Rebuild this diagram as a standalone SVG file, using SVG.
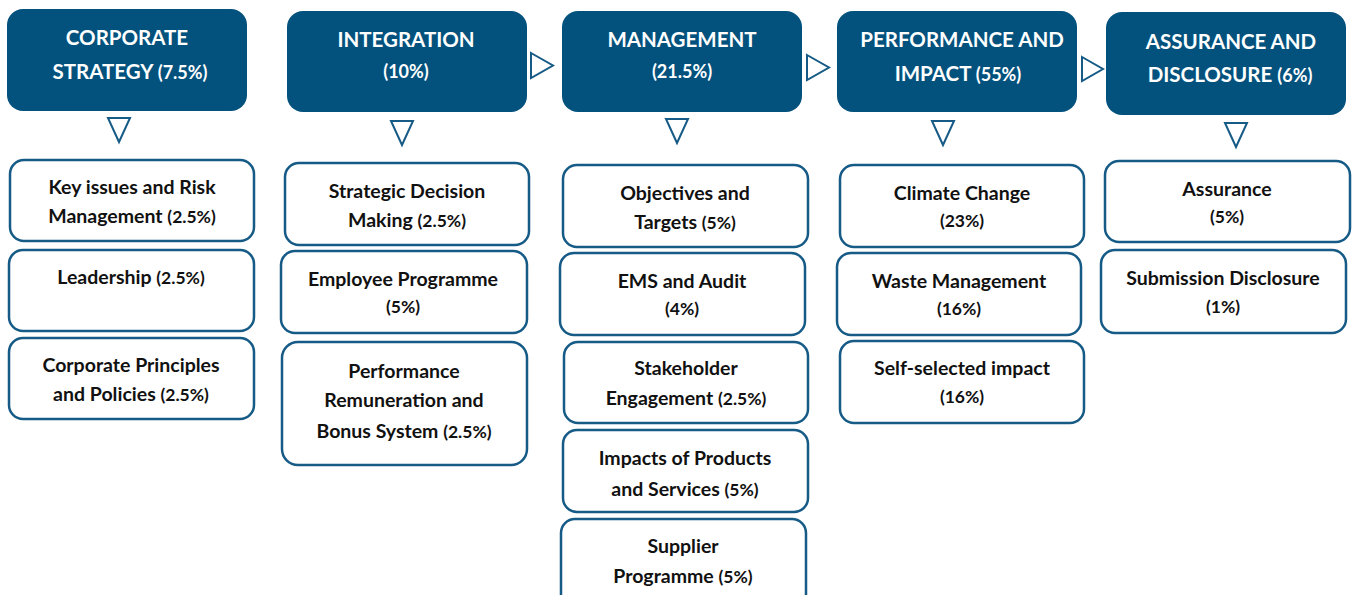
<svg xmlns="http://www.w3.org/2000/svg" width="1359" height="595" viewBox="0 0 1359 595">
<style>
.hd{fill:#03527D;}
.bx{fill:#fff;stroke:#165A86;stroke-width:2.5;}
.tri{fill:#fff;stroke:#165A86;stroke-width:2;stroke-linejoin:miter;}
text{font-family:Lato,"Open Sans","Liberation Sans",sans-serif;font-weight:700;text-anchor:middle;}
.ht{fill:#fff;font-size:20.5px;}
.ht .p{font-size:18px;}
.bt{fill:#111;font-size:19.5px;}
.bt .p,.bp{font-size:17.5px;}
</style>
<rect width="1359" height="595" fill="#fff"/>

<g id="connectors">
<polygon class="tri" points="531,53 553,65.5 531,78"/>
<polygon class="tri" points="807,55 829,67.5 807,80"/>
<polygon class="tri" points="1082,57 1103,69 1082,81"/>
<polygon class="tri" points="108,118 130,118 119,142"/>
<polygon class="tri" points="391,121 413,121 402,145"/>
<polygon class="tri" points="666,119 688,119 677,143"/>
<polygon class="tri" points="932,121 954,121 943,145"/>
<polygon class="tri" points="1225,123 1247,123 1236,147"/>
</g>

<g id="h1"><rect class="hd" x="7" y="9" width="240" height="102" rx="16"/>
<text class="ht" x="127" y="45">CORPORATE</text>
<text class="ht" x="130" y="79">STRATEGY <tspan class="p">(7.5%)</tspan></text></g>
<g id="h2"><rect class="hd" x="287" y="11" width="240" height="101" rx="16"/>
<text class="ht" x="406" y="47">INTEGRATION</text>
<text class="ht" x="406" y="78"><tspan class="p">(10%)</tspan></text></g>
<g id="h3"><rect class="hd" x="562" y="11" width="240" height="101" rx="16"/>
<text class="ht" x="682" y="47">MANAGEMENT</text>
<text class="ht" x="682" y="78"><tspan class="p">(21.5%)</tspan></text></g>
<g id="h4"><rect class="hd" x="837" y="11" width="240" height="101" rx="16"/>
<text class="ht" x="962" y="47">PERFORMANCE AND</text>
<text class="ht" x="958" y="81">IMPACT <tspan class="p">(55%)</tspan></text></g>
<g id="h5"><rect class="hd" x="1106" y="12" width="240" height="103" rx="16"/>
<text class="ht" x="1231" y="49">ASSURANCE AND</text>
<text class="ht" x="1230" y="82">DISCLOSURE <tspan class="p">(6%)</tspan></text></g>

<g id="b1"><rect class="bx" x="10" y="160" width="244" height="81" rx="14"/>
<text class="bt" x="132" y="194">Key issues and Risk</text>
<text class="bt" x="132" y="223">Management <tspan class="p">(2.5%)</tspan></text></g>
<g id="b2"><rect class="bx" x="9" y="250" width="245" height="81" rx="14"/>
<text class="bt" x="131" y="284">Leadership <tspan class="p">(2.5%)</tspan></text></g>
<g id="b3"><rect class="bx" x="9" y="338" width="245" height="81" rx="14"/>
<text class="bt" x="131" y="372">Corporate Principles</text>
<text class="bt" x="131" y="401">and Policies <tspan class="p">(2.5%)</tspan></text></g>

<g id="b4"><rect class="bx" x="285" y="163" width="244" height="82" rx="14"/>
<text class="bt" x="407" y="198">Strategic Decision</text>
<text class="bt" x="407" y="227">Making <tspan class="p">(2.5%)</tspan></text></g>
<g id="b5"><rect class="bx" x="281" y="251" width="246" height="82" rx="14"/>
<text class="bt" x="403" y="286">Employee Programme</text>
<text class="bp bt" x="403" y="313">(5%)</text></g>
<g id="b6"><rect class="bx" x="282" y="342" width="245" height="123" rx="16"/>
<text class="bt" x="404" y="378">Performance</text>
<text class="bt" x="404" y="407">Remuneration and</text>
<text class="bt" x="404" y="438">Bonus System <tspan class="p">(2.5%)</tspan></text></g>

<g id="b7"><rect class="bx" x="563" y="165" width="245" height="82" rx="14"/>
<text class="bt" x="685" y="200">Objectives and</text>
<text class="bt" x="685" y="229">Targets <tspan class="p">(5%)</tspan></text></g>
<g id="b8"><rect class="bx" x="560" y="253" width="245" height="82" rx="14"/>
<text class="bt" x="682" y="288">EMS and Audit</text>
<text class="bp bt" x="682" y="315">(4%)</text></g>
<g id="b9"><rect class="bx" x="564" y="342" width="244" height="81" rx="14"/>
<text class="bt" x="686" y="375">Stakeholder</text>
<text class="bt" x="686" y="405">Engagement <tspan class="p">(2.5%)</tspan></text></g>
<g id="b10"><rect class="bx" x="563" y="430" width="245" height="82" rx="14"/>
<text class="bt" x="685" y="465">Impacts of Products</text>
<text class="bt" x="685" y="496">and Services <tspan class="p">(5%)</tspan></text></g>
<g id="b11"><rect class="bx" x="561" y="519" width="245" height="90" rx="14"/>
<text class="bt" x="683" y="553">Supplier</text>
<text class="bt" x="683" y="583">Programme <tspan class="p">(5%)</tspan></text></g>

<g id="b12"><rect class="bx" x="840" y="165" width="244" height="82" rx="14"/>
<text class="bt" x="962" y="200">Climate Change</text>
<text class="bp bt" x="962" y="227">(23%)</text></g>
<g id="b13"><rect class="bx" x="837" y="253" width="244" height="82" rx="14"/>
<text class="bt" x="959" y="288">Waste Management</text>
<text class="bp bt" x="959" y="315">(16%)</text></g>
<g id="b14"><rect class="bx" x="840" y="341" width="244" height="82" rx="14"/>
<text class="bt" x="962" y="375">Self-selected impact</text>
<text class="bp bt" x="962" y="403">(16%)</text></g>

<g id="b15"><rect class="bx" x="1105" y="161" width="245" height="81" rx="14"/>
<text class="bt" x="1227" y="196">Assurance</text>
<text class="bp bt" x="1227" y="223">(5%)</text></g>
<g id="b16"><rect class="bx" x="1101" y="250" width="245" height="83" rx="14"/>
<text class="bt" x="1223" y="285">Submission Disclosure</text>
<text class="bp bt" x="1223" y="313">(1%)</text></g>
</svg>
